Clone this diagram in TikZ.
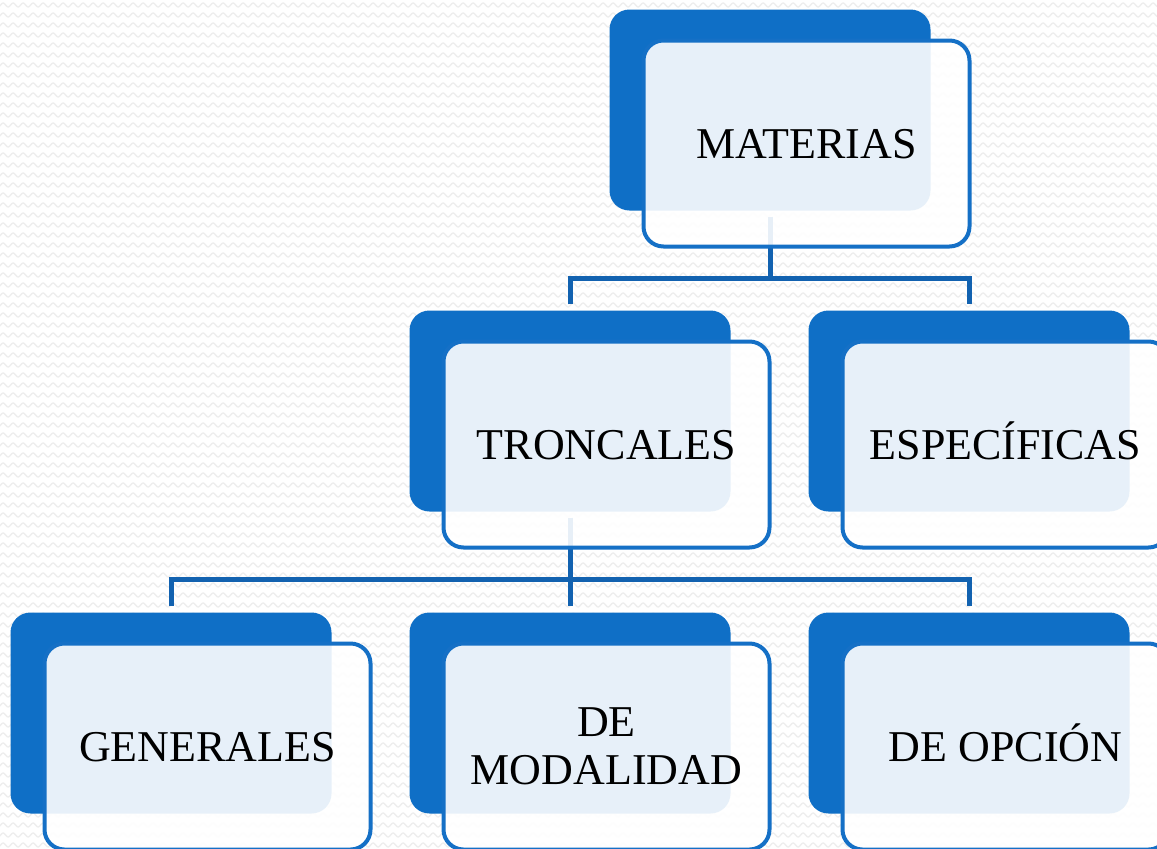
\documentclass[tikz,border=0pt]{standalone}
\usepackage{fontspec}
\setmainfont{Liberation Serif}
\usetikzlibrary{decorations.pathmorphing}
\definecolor{boxblue}{HTML}{0F6FC6}
\definecolor{edgeblue}{HTML}{1570C6}
\definecolor{connblue}{HTML}{1262B0}
\definecolor{bgwave}{HTML}{EEEEEE}
\tikzset{
  backbox/.style={fill=boxblue, draw=none, rounded corners=20pt, minimum width=321pt, minimum height=201pt, inner sep=0pt},
  frontbox/.style={fill=white, fill opacity=0.9, text opacity=1, draw=edgeblue, draw opacity=1, line width=4pt, rounded corners=20pt, minimum width=326pt, minimum height=206pt, inner sep=0pt, align=center, font=\fontsize{44}{48}\selectfont},
  oneline/.style={text height=29pt, text depth=0pt},
  conn/.style={draw=connblue, line width=5pt, line cap=butt, line join=miter},
  wave/.style={draw=bgwave, line width=1.4pt, decorate, decoration={snake, segment length=10pt, amplitude=2pt}}
}
\begin{document}
\begin{tikzpicture}[x=1pt,y=1pt]
\useasboundingbox (0,0) rectangle (1157,-849);
\clip (0,0) rectangle (1157,-849);
\fill[white] (0,0) rectangle (1157,-849);
\foreach \r in {0,...,85} {
  \draw[wave] (-10,-5-10*\r) -- (1170,-5-10*\r);
}
% back boxes
\node[backbox] (matB) at (770,-110) {};
\node[backbox] (troB) at (570,-411) {};
\node[backbox] (espB) at (969,-411) {};
\node[backbox] (genB) at (171,-713) {};
\node[backbox] (modB) at (570,-713) {};
\node[backbox] (opcB) at (969,-713) {};
% connectors
\coordinate (j1) at (770,-278);
\coordinate (j2) at (570,-579);
\draw[conn] ([yshift=-6pt]matB.south) -- (j1);
\draw[conn] ([yshift=6pt]troB.north) |- (j1) -| ([yshift=6pt]espB.north);
\draw[conn] ([yshift=-6pt]troB.south) -- (j2);
\draw[conn] ([yshift=6pt]genB.north) |- (j2) -| ([yshift=6pt]opcB.north);
\draw[conn] (j2) -- ([yshift=6pt]modB.north);
% front boxes
\node[frontbox, oneline] (mat) at ([xshift=36.5pt,yshift=-33.5pt]matB.center) {MATERIAS};
\node[frontbox, oneline] (tro) at ([xshift=36.5pt,yshift=-33.5pt]troB.center) {TRONCALES};
\node[frontbox, oneline] (esp) at ([xshift=36.5pt,yshift=-33.5pt]espB.center) {ESPECÍFICAS};
\node[frontbox, oneline] (gen) at ([xshift=36.5pt,yshift=-33.5pt]genB.center) {GENERALES};
\node[frontbox] (mod) at ([xshift=36.5pt,yshift=-33.5pt]modB.center) {DE\\MODALIDAD};
\node[frontbox, oneline] (opc) at ([xshift=36.5pt,yshift=-33.5pt]opcB.center) {DE OPCIÓN};
\end{tikzpicture}
\end{document}
